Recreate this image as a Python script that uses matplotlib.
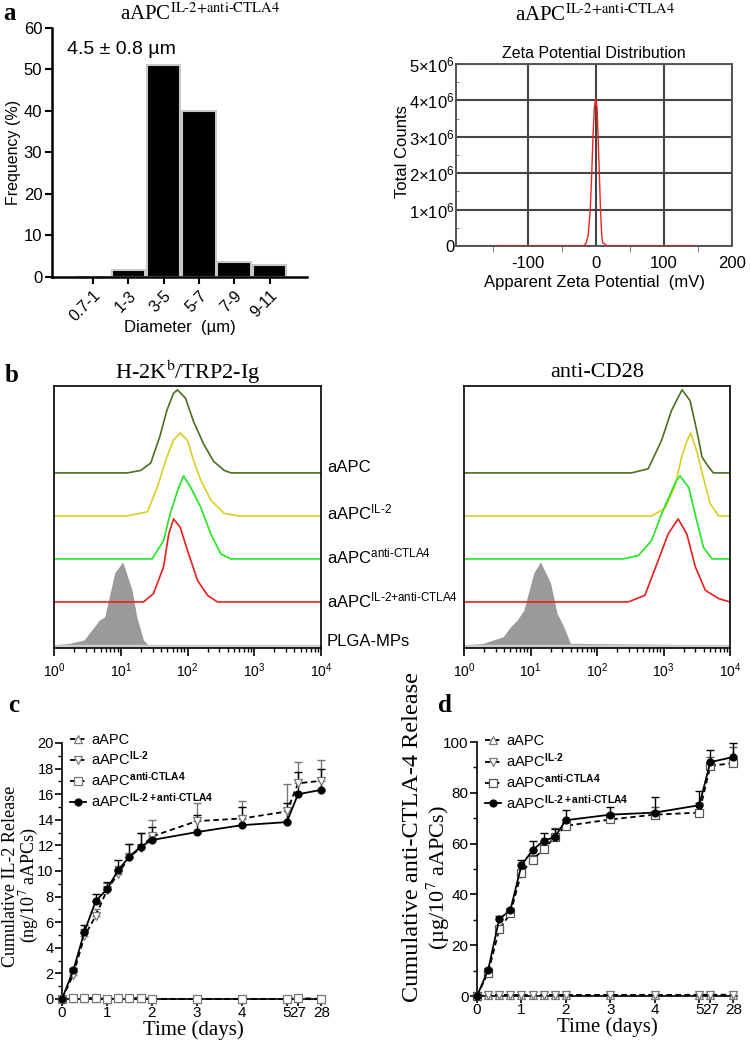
import numpy as np
import matplotlib
matplotlib.use('Agg')
import matplotlib.pyplot as plt
from matplotlib.ticker import FixedLocator, LogLocator, NullFormatter, MultipleLocator

plt.rcParams['font.family'] = 'Liberation Sans'
plt.rcParams['mathtext.fontset'] = 'custom'
plt.rcParams['mathtext.rm'] = 'Liberation Sans'
plt.rcParams['mathtext.bf'] = 'Liberation Sans:bold'
plt.rcParams['mathtext.it'] = 'Liberation Sans:italic'
SERIF = 'Liberation Serif'

# ---- panel a: size distribution
size_bins = ['0.7-1', '1-3', '3-5', '5-7', '7-9', '9-11']
size_freq = [0, 1.8, 51, 40, 3.7, 2.9]

# ---- panel a: zeta potential (mV, counts in 1e6)
zeta_mv = [-145, -18, -14, -11, -8, -6, -4, -2, 0, 2, 3.5, 5.5, 7, 9, 10.5, 13, 17, 148]
zeta_counts = [0, 0, 0.08, 0.3, 1.0, 1.9, 3.0, 3.8, 4.05, 3.8, 3.0, 1.9, 1.0, 0.25, 0.08, 0.06, 0, 0]

# ---- panel b: flow histograms, (log10 intensity, relative height)
h2kb_aapc = ([0, 1.1, 1.3, 1.45, 1.59, 1.69, 1.79, 1.85, 1.97, 2.09, 2.24, 2.39, 2.55, 2.65, 4],
             [0, 0, 0.03, 0.12, 0.45, 0.75, 0.96, 1.0, 0.9, 0.62, 0.35, 0.14, 0.03, 0, 0])
h2kb_il2 = ([0, 1.1, 1.4, 1.55, 1.69, 1.79, 1.89, 2.0, 2.09, 2.2, 2.35, 2.55, 2.76, 4],
            [0, 0, 0.05, 0.35, 0.71, 0.91, 1.0, 0.91, 0.67, 0.43, 0.19, 0.03, 0, 0])
h2kb_anti = ([0, 1.47, 1.64, 1.74, 1.85, 1.94, 2.05, 2.2, 2.35, 2.5, 2.65, 4],
             [0, 0, 0.22, 0.54, 0.82, 1.0, 0.86, 0.62, 0.3, 0.06, 0, 0])
h2kb_combo = ([0, 1.34, 1.49, 1.64, 1.72, 1.79, 1.89, 2.0, 2.15, 2.3, 2.45, 4],
              [0, 0, 0.1, 0.42, 0.82, 1.0, 0.9, 0.62, 0.26, 0.08, 0, 0])
h2kb_plga = ([0, 0.23, 0.45, 0.68, 0.76, 0.91, 1.03, 1.17, 1.24, 1.34, 1.41, 4],
             [0, 0.02, 0.06, 0.3, 0.34, 0.87, 1.0, 0.66, 0.34, 0.06, 0, 0])

cd28_aapc = ([0, 2.52, 2.77, 2.97, 3.12, 3.22, 3.28, 3.4, 3.5, 3.58, 3.68, 3.75, 4],
             [0, 0, 0.05, 0.39, 0.75, 0.91, 1.0, 0.87, 0.51, 0.19, 0.07, 0, 0])
cd28_il2 = ([0, 2.82, 3.02, 3.17, 3.27, 3.35, 3.41, 3.5, 3.6, 3.7, 3.83, 4],
            [0, 0, 0.09, 0.35, 0.7, 0.9, 1.0, 0.78, 0.46, 0.15, 0, 0])
cd28_anti = ([0, 2.39, 2.62, 2.82, 2.97, 3.1, 3.19, 3.25, 3.38, 3.5, 3.6, 3.73, 4],
             [0, 0, 0.04, 0.22, 0.54, 0.78, 0.94, 1.0, 0.86, 0.46, 0.14, 0, 0])
cd28_combo = ([0, 2.47, 2.72, 2.92, 3.07, 3.22, 3.35, 3.48, 3.63, 3.83, 4],
              [0, 0, 0.08, 0.5, 0.82, 1.0, 0.82, 0.42, 0.14, 0.04, 0])
cd28_plga = ([0, 0.29, 0.59, 0.7, 0.8, 0.9, 1.05, 1.15, 1.3, 1.4, 1.5, 1.6, 4],
             [0, 0.02, 0.1, 0.22, 0.3, 0.42, 0.87, 1.0, 0.75, 0.38, 0.22, 0.02, 0])

flow_colors = ['#4c6e1f', '#d9cf22', '#22e622', '#f01c1c']
flow_names = [r'aAPC', r'aAPC$^{\text{IL-2}}$', r'aAPC$^{\text{anti-CTLA4}}$',
              r'aAPC$^{\text{IL-2+anti-CTLA4}}$', 'PLGA-MPs']

# ---- panels c, d: release kinetics
days = [0, 0.25, 0.5, 0.75, 1, 1.25, 1.5, 1.75, 2, 3, 4, 5, 27, 28]
day_ticks = [0, 1, 2, 3, 4, 5, 27, 28]

il2_aapc = [0, 0.05, 0.05, 0.05, 0, 0.05, 0.05, 0.05, 0, 0, 0, 0, 0.05, 0]
il2_anti = [0, 0.05, 0.05, 0.05, 0, 0.05, 0.05, 0.05, 0, 0, 0, 0, 0.05, 0]
il2_il2 = [0, 1.9, 4.9, 6.5, 8.5, 9.8, 11.1, 11.8, 12.7, 13.9, 14.1, 14.65, 16.85, 17.05]
il2_il2_err = [0, 0.3, 0.6, 0.5, 0.6, 0.6, 1.0, 1.2, 1.3, 1.4, 1.35, 2.15, 1.65, 1.65]
il2_combo = [0, 2.23, 5.27, 7.66, 8.57, 10.08, 11.12, 11.9, 12.42, 13.04, 13.58, 13.82, 16.0, 16.34]
il2_combo_err = [0, 0.2, 0.55, 0.55, 0.6, 0.75, 1.0, 1.1, 1.0, 1.36, 1.4, 1.5, 1.7, 1.6]

ctla_aapc = [0, 0.3, 0.3, 0.3, 0.2, 0.3, 0.3, 0.3, 0.3, 0.3, 0.3, 0.3, 0.3, 0.3]
ctla_il2 = [0, 0.4, 0.4, 0.4, 0.3, 0.4, 0.4, 0.4, 0.4, 0.4, 0.4, 0.5, 0.5, 0.5]
ctla_anti = [0, 9.2, 26.2, 32.5, 48.6, 53.7, 57.7, 62.6, 67.0, 69.5, 71.4, 72.2, 90.6, 91.7]
ctla_anti_err = [0, 1, 1, 1, 1.5, 2, 2.5, 3.7, 2.5, 2.6, 3, 3.8, 3.5, 6.3]
ctla_combo = [0, 10.2, 30.3, 33.8, 51.5, 57.4, 61.1, 62.6, 69.2, 71.4, 72.2, 75.1, 92.1, 94.1]
ctla_combo_err = [0, 1, 1, 1, 2, 3.5, 3, 3, 4, 3, 6, 5.6, 4.6, 5.5]

W, H = 750, 1040
fig = plt.figure(figsize=(7.5, 10.4), dpi=100)


def rect(x0, y0, x1, y1):
    # pixel box -> figure fraction
    return [x0 / W, 1 - y1 / H, (x1 - x0) / W, (y1 - y0) / H]


def ftext(x, y, s, **kw):
    return fig.text(x / W, 1 - y / H, s, **kw)


def day_pos(t):
    # broken time axis: 0-5 days, then 27-28
    return t if t <= 5 else 5.25 + (t - 27) * 0.52


# ================= panel a, size histogram
ax = fig.add_axes(rect(52, 28, 307, 277))
ax.bar(range(len(size_bins)), size_freq, width=0.95, color='black',
       edgecolor='#c8c8c8', linewidth=1.5)
ax.set_xlim(-1.16, 6.06)
ax.set_ylim(0, 60)
ax.set_yticks(range(0, 61, 10))
ax.set_xticks(range(len(size_bins)))
ax.set_xticklabels(size_bins, rotation=45, ha='right', rotation_mode='anchor', fontsize=11.5)
ax.tick_params(axis='y', labelsize=12, width=1.5, length=5, pad=2)
ax.tick_params(axis='x', width=1.5, length=5, pad=3)
for s in ['top', 'right']:
    ax.spines[s].set_visible(False)
for s in ['left', 'bottom']:
    ax.spines[s].set_linewidth(1.8)
ax.set_ylabel('Frequency (%)', fontsize=11.5, labelpad=2)
ax.set_xlabel('Diameter  (µm)', fontsize=12, labelpad=-3)
ax.text(0.06, 0.915, '4.5 ± 0.8 µm', transform=ax.transAxes, fontsize=14, va='center')

# ================= panel a, zeta potential
az = fig.add_axes(rect(456, 64, 732, 246))
az.plot(zeta_mv, np.array(zeta_counts) * 1e6, color='#ee2222', lw=1.0, zorder=3)
az.set_xlim(-205, 200)
az.set_ylim(0, 5e6)
az.set_xticks([-100, 0, 100, 200])
az.set_xticklabels(['-100', '0', '100', '200'])
az.xaxis.set_minor_locator(FixedLocator([-150, -50, 50, 150]))
az.set_yticks([0, 1e6, 2e6, 3e6, 4e6, 5e6])
az.set_yticklabels(['0'] + [r'$%d{\times}10^{6}$' % k for k in range(1, 6)])
az.yaxis.set_minor_locator(MultipleLocator(0.5e6))
az.tick_params(axis='x', which='major', length=0, labelsize=12, pad=7)
az.tick_params(axis='x', which='minor', length=4, color='#666666')
az.tick_params(axis='y', which='major', length=0, labelsize=12, pad=1)
az.tick_params(axis='y', which='minor', length=2, direction='in', color='#666666')
az.grid(True, which='major', color='#444444', lw=1.5)
for s in az.spines.values():
    s.set_color('#555555')
    s.set_linewidth(1.4)
az.set_title('Zeta Potential Distribution', fontsize=11.5, pad=4)
az.set_ylabel('Total Counts', fontsize=12)
az.yaxis.set_label_coords(-0.165, 0.52)
az.set_xlabel('Apparent Zeta Potential  (mV)', fontsize=12, labelpad=3)

ftext(200, 14, r'aAPC$^{\text{IL-2+anti-CTLA4}}$', family=SERIF, math_fontfamily='stix',
      fontsize=15, ha='center', va='center')
ftext(595, 15, r'aAPC$^{\text{IL-2+anti-CTLA4}}$', family=SERIF, math_fontfamily='stix',
      fontsize=15, ha='center', va='center')
ftext(3, 13, 'a', family=SERIF, fontweight='bold', fontsize=18, va='center')


# ================= panel b, flow cytometry
def flow_panel(box, curves, title):
    af = fig.add_axes(rect(*box))
    for i, (curve, col) in enumerate(zip(curves[:4], flow_colors)):
        base = 4 - i
        x = 10 ** np.array(curve[0])
        af.plot(x, base + np.array(curve[1]) * 1.93, color=col, lw=1.2)
    x = 10 ** np.array(curves[4][0])
    af.plot([1, 1e4], [-0.02, -0.02], color='#cccccc', lw=2.5)
    af.fill_between(x, 0, np.array(curves[4][1]) * 1.93, color='#9a9a9a', lw=0)
    af.set_xscale('log')
    af.set_xlim(1, 1e4)
    af.set_ylim(-0.07, 6.02)
    af.set_yticks([])
    af.set_xticks([1, 10, 100, 1000, 10000])
    af.set_xticklabels([r'$10^{%d}$' % k for k in range(5)])
    af.xaxis.set_minor_locator(LogLocator(base=10, subs=np.arange(2, 10)))
    af.xaxis.set_minor_formatter(NullFormatter())
    af.tick_params(axis='x', which='major', length=6, width=1.2, labelsize=10, pad=4)
    af.tick_params(axis='x', which='minor', length=3, width=1.0)
    for s in af.spines.values():
        s.set_linewidth(1.2)
    ftext((box[0] + box[2]) / 2, 372, title, family=SERIF, math_fontfamily='stix',
          fontsize=16, ha='center', va='center')
    return af


flow_panel((54, 386, 321, 648), [h2kb_aapc, h2kb_il2, h2kb_anti, h2kb_combo, h2kb_plga],
           r'H-2K$^{\mathrm{b}}$/TRP2-Ig')
flow_panel((464, 386, 730, 648), [cd28_aapc, cd28_il2, cd28_anti, cd28_combo, cd28_plga],
           'anti-CD28')
for name, yy in zip(flow_names, [467, 512, 556, 600, 642]):
    ftext(327, yy, name, fontsize=12, va='center')
ftext(5, 375, 'b', family=SERIF, fontweight='bold', fontsize=18, va='center')


# ================= panels c, d, release
def release_panel(box, series, ylim, ymajor, yminor, leg_anchor):
    ar = fig.add_axes(rect(*box))
    xs = [day_pos(t) for t in days]
    for vals, err, mk, mfc, mec, ls, col, lab in series:
        if err is not None:
            ar.errorbar(xs, vals, yerr=[np.zeros(len(err)), err], fmt='none',
                        ecolor=mec, elinewidth=1.0, capsize=3, capthick=1.0, zorder=2)
        ar.plot(xs, vals, ls=ls, color=col, lw=1.3, marker=mk, ms=5.5 if mk != 'o' else 5,
                mfc=mfc, mec=mec, mew=0.9, label=lab, clip_on=False, zorder=3,
                dashes=(3, 2) if ls == '--' else (None, None))
    ar.set_xlim(0, 5.85)
    ar.set_ylim(*ylim)
    ar.set_xticks([day_pos(t) for t in day_ticks])
    ar.set_xticklabels([str(t) for t in day_ticks])
    ar.yaxis.set_major_locator(MultipleLocator(ymajor))
    ar.yaxis.set_minor_locator(MultipleLocator(yminor))
    ar.tick_params(which='major', labelsize=11, length=5, width=1.2, pad=1)
    ar.tick_params(which='minor', length=3, width=1.0)
    ar.tick_params(axis='x', pad=0, labelsize=11)
    for s in ['top', 'right']:
        ar.spines[s].set_visible(False)
    for s in ['left', 'bottom']:
        ar.spines[s].set_linewidth(1.2)
    ar.set_xlabel('Time (days)', family=SERIF, fontsize=15, labelpad=0)
    ar.legend(loc='upper left', bbox_to_anchor=leg_anchor, frameon=False, fontsize=10.5,
              handlelength=1.1, handletextpad=0.35, labelspacing=0.2, borderpad=0,
              borderaxespad=0)
    return ar


lab_aapc = 'aAPC'
lab_il2 = r'aAPC$^{\mathbf{IL\text{-}2}}$'
lab_anti = r'aAPC$^{\mathbf{anti\text{-}CTLA4}}$'
lab_combo = r'aAPC$^{\mathbf{IL\text{-}2+anti\text{-}CTLA4}}$'

ac = release_panel((62, 743, 325, 999),
                   [(il2_aapc, None, '^', 'white', '#777777', '--', 'black', lab_aapc),
                    (il2_il2, il2_il2_err, 'v', 'white', '#777777', '--', 'black', lab_il2),
                    (il2_anti, None, 's', 'white', '#777777', '--', 'black', lab_anti),
                    (il2_combo, il2_combo_err, 'o', 'black', 'black', '-', 'black', lab_combo)],
                   (0, 20), 2, 1, (0.03, 1.04))
ac.tick_params(axis='y', which='major', labelsize=10.5)
ftext(10.5, 876, 'Cumulative IL-2 Release', family=SERIF, fontsize=13, rotation=90,
      ha='center', va='center')
ftext(29, 885, '(ng/10$^{7}$ aAPCs)', family=SERIF, math_fontfamily='stix', fontsize=13,
      rotation=90, ha='center', va='center')
ftext(8, 706, 'c', family=SERIF, fontweight='bold', fontsize=18, va='center')

release_panel((477, 742, 737, 996),
              [(ctla_aapc, None, '^', 'white', '#777777', '--', 'black', lab_aapc),
               (ctla_il2, None, 'v', 'white', '#777777', '--', 'black', lab_il2),
               (ctla_anti, ctla_anti_err, 's', 'white', '#555555', '--', 'black', lab_anti),
               (ctla_combo, ctla_combo_err, 'o', 'black', 'black', '-', 'black', lab_combo)],
              (0, 100), 20, 10, (0.03, 1.03))
ftext(413, 837, 'Cumulative anti-CTLA-4 Release', family=SERIF, fontsize=17.5, rotation=90,
      ha='center', va='center')
ftext(438, 878, '(µg/10$^{7}$ aAPCs)', family=SERIF, math_fontfamily='stix', fontsize=16,
      rotation=90, ha='center', va='center')
ftext(438, 706, 'd', family=SERIF, fontweight='bold', fontsize=18, va='center')

fig.savefig('out.png', dpi=100)
